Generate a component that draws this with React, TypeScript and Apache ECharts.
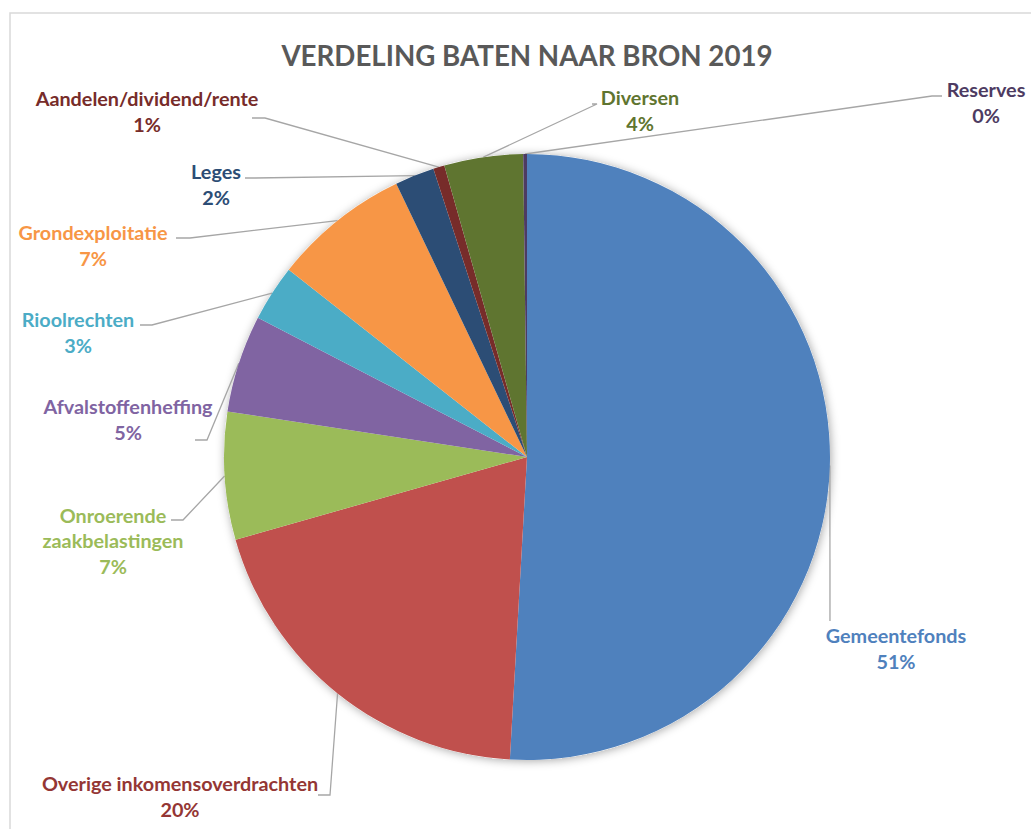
import React, { useEffect, useRef } from "react";
import * as echarts from "echarts";

const titleText = "VERDELING BATEN NAAR BRON 2019";
const categories = [
  "Gemeentefonds",
  "Overige inkomensoverdrachten",
  "Onroerende zaakbelastingen",
  "Afvalstoffenheffing",
  "Rioolrechten",
  "Grondexploitatie",
  "Leges",
  "Aandelen/dividend/rente",
  "Diversen",
  "Reserves",
];
const shares = [50.9, 19.7, 6.8, 5.2, 3.0, 7.3, 2.1, 0.6, 4.2, 0.2];

const sliceColors = ["#4F81BD", "#C0504D", "#9BBB59", "#8064A2", "#4BACC6", "#F79646", "#2C4D75", "#772C2A", "#5F7530", "#4D3B62"];
const labelColors = ["#4F81BD", "#943634", "#9BBB59", "#8064A2", "#4BACC6", "#F79646", "#2C4D75", "#772C2A", "#5F7530", "#4D3B62"];

// label layout (page pixels): label centre and leader line end points
const labelCenters: number[][] = [
  [896, 648], [180, 796], [113, 540], [128, 419], [78, 332],
  [93, 245], [216, 184], [147, 111], [640, 110], [986, 102],
];
const leaderEnds: number[][][] = [
  [[830, 621]],
  [[330, 795], [318, 795]],
  [[183, 520], [171, 520]],
  [[207, 440], [195, 440]],
  [[152, 325], [140, 325]],
  [[190, 238], [176, 238]],
  [[255, 178], [245, 178]],
  [[265, 118], [252, 118]],
  [[597, 104], [592, 104]],
  [[932, 96], [942, 96]],
];

const CX = 527;
const CY = 457;
const R = 303;

export default function App() {
  const ref = useRef<HTMLDivElement>(null);
  useEffect(() => {
    if (!ref.current) return;
    const chart = echarts.init(ref.current, undefined, { renderer: "svg" });
    const fontFamily = "Lato, 'Open Sans', sans-serif";
    chart.setOption({
      animation: false,
      backgroundColor: "#ffffff",
      graphic: [
        {
          type: "rect",
          z: -10,
          shape: { x: 10, y: 13, width: 1100, height: 900 },
          style: { fill: "#ffffff", stroke: "#d9d9d9", lineWidth: 1.5 },
        },
        {
          type: "text",
          x: 527,
          y: 55,
          style: {
            text: titleText,
            fill: "#595959",
            font: `bold 27.7px ${fontFamily}`,
            textAlign: "center",
            textVerticalAlign: "middle",
          },
        },
      ],
      series: [
        {
          type: "pie",
          silent: true,
          center: [CX, CY],
          radius: R,
          z: 1,
          label: { show: false },
          labelLine: { show: false },
          itemStyle: {
            color: "#ffffff",
            shadowBlur: 10,
            shadowColor: "rgba(0,0,0,0.35)",
            shadowOffsetX: 1,
            shadowOffsetY: 1,
          },
          data: [{ value: 1, name: "" }],
        },
        {
          type: "pie",
          z: 2,
          center: [CX, CY],
          radius: R,
          startAngle: 90,
          clockwise: true,
          avoidLabelOverlap: false,
          itemStyle: { borderWidth: 0 },
          data: categories.map((name, i) => ({
            name,
            value: shares[i],
            itemStyle: { color: sliceColors[i] },
            label: { color: labelColors[i] },
          })),
          label: {
            show: true,
            position: "outside",
            fontFamily,
            fontWeight: "bold",
            fontSize: 19.8,
            lineHeight: 25.5,
            align: "center",
            formatter: (p: any) =>
              `${p.name.replace("Onroerende ", "Onroerende\n")}\n${Math.round(p.percent)}%`,
          },
          labelLine: {
            show: true,
            length: 10,
            length2: 10,
            lineStyle: { color: "#a6a6a6", width: 1.3 },
          },
          labelLayout: (params: any) => {
            const i = params.dataIndex;
            const start = params.labelLinePoints ? params.labelLinePoints[0] : [CX, CY];
            return {
              x: labelCenters[i][0],
              y: labelCenters[i][1],
              align: "center",
              verticalAlign: "middle",
              hideOverlap: false,
              labelLinePoints: [start, ...leaderEnds[i]],
            };
          },
        },
      ],
    });
    return () => chart.dispose();
  }, []);
  return (
    <div
      ref={ref}
      style={{ position: "absolute", left: 0, top: 0, width: 1031, height: 829 }}
    />
  );
}
